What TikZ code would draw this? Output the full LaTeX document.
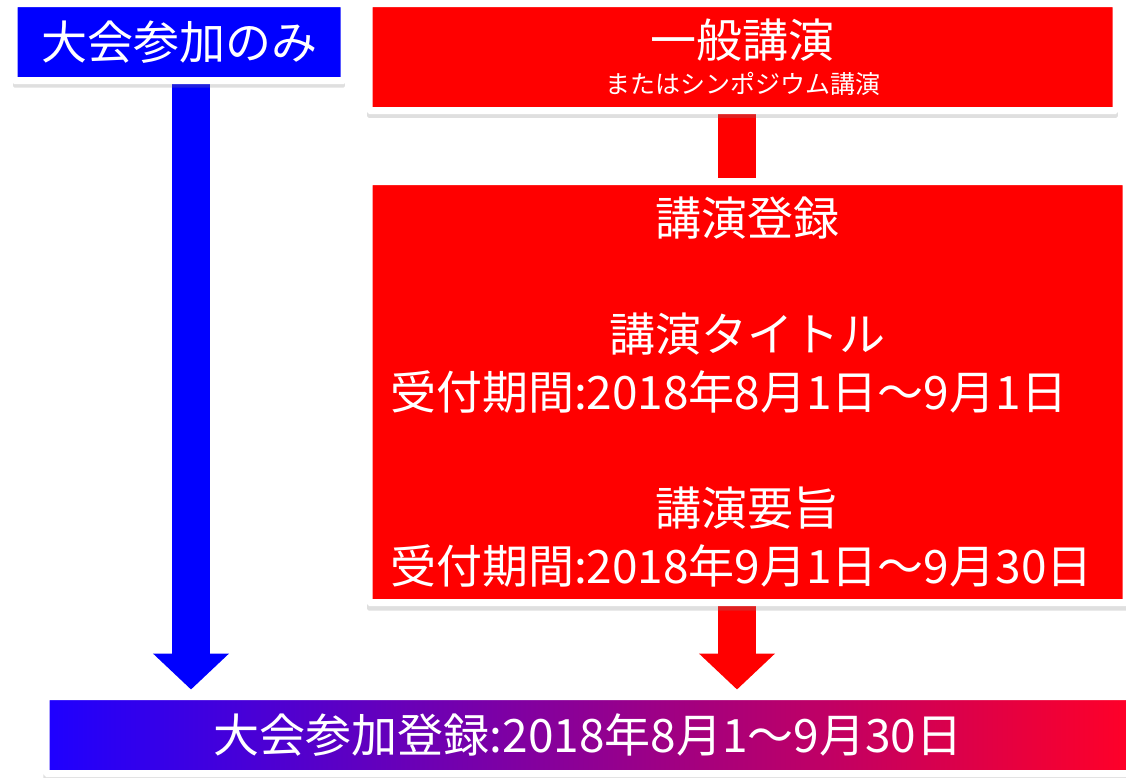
\documentclass[tikz,border=0pt]{standalone}
\usepackage{fontspec}
\setmainfont{Noto Sans CJK JP}
\usetikzlibrary{arrows.meta,positioning,shadows,backgrounds}
\definecolor{regblue}{RGB}{30,0,255}
\definecolor{regred}{RGB}{255,0,40}

\begin{document}
\begin{tikzpicture}[x=1pt, y=-1pt,
  box/.style={draw=white, line width=7pt, rounded corners=1.5pt, inner sep=0pt, text=white, align=center,
    drop shadow={shadow xshift=0pt, shadow yshift=-7pt, shadow scale=1.005, opacity=0.25}},
  big/.style={font=\fontsize{46}{58}\selectfont},
  shaft/.style={line width=38pt},
  ar/.style={line width=38pt, -{Triangle[width=74pt,length=36pt]}, shorten >=3.5pt}
]
\useasboundingbox (0,0) rectangle (1126,777);

% boxes
\node[box, big, fill=blue, minimum width=330pt, minimum height=77pt] (solo) at (179,42) {大会参加のみ};
\node[box, fill=red, minimum width=747pt, minimum height=107pt] (talk) at (742.5,57)
  {{\fontsize{46}{50}\selectfont 一般講演}\\[10pt]{\fontsize{25}{30}\selectfont またはシンポジウム講演}};
\node[box, big, fill=red, minimum width=757pt, minimum height=421pt] (entry) at (747.5,392)
  {講演登録\\ \mbox{}\\ 講演タイトル\\
   \makebox[715pt][l]{受付期間:2018年8月1日～9月1日}\\ \mbox{}\\ 講演要旨\\
   \makebox[715pt][l]{受付期間:2018年9月1日～9月30日}};
\node[box, big, left color=regblue, right color=regred, minimum width=1084pt, minimum height=77pt] (reg) at (588,735)
  {大会参加登録:2018年8月1～9月30日};

% connectors
\coordinate (bx) at (191,0);
\coordinate (rx) at (737,0);
\begin{scope}[on background layer]
\draw[shaft, red] (talk.south -| rx) -- (entry.north -| rx);
\draw[ar, blue] (solo.south -| bx) -- (reg.north -| bx);
\draw[ar, red] (entry.south -| rx) -- (reg.north -| rx);
\end{scope}
\end{tikzpicture}
\end{document}
